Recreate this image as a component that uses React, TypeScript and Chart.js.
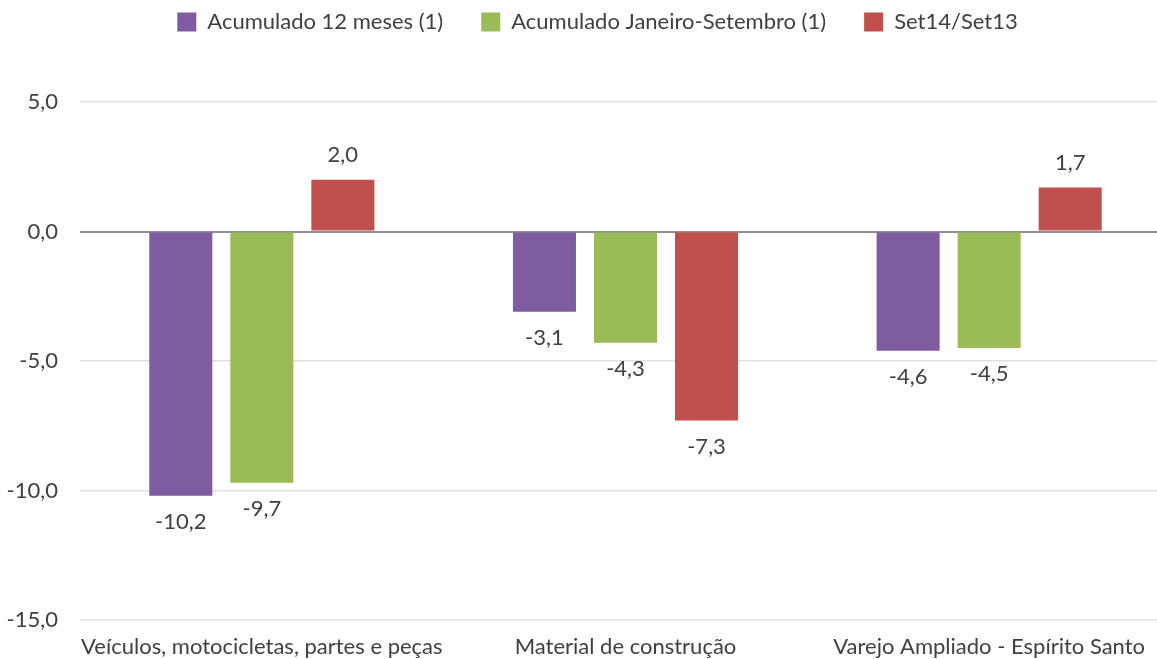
import React, { useEffect, useRef } from "react";
import { Chart, registerables } from "chart.js";

Chart.register(...registerables);

const categories = [
  "Veículos, motocicletas, partes e peças",
  "Material de construção",
  "Varejo Ampliado - Espírito Santo",
];
const acumulado12 = [-10.2, -3.1, -4.6];
const acumuladoJanSet = [-9.7, -4.3, -4.5];
const set14Set13 = [2.0, -7.3, 1.7];
const seriesNames = ["Acumulado 12 meses (1)", "Acumulado Janeiro-Setembro (1)", "Set14/Set13"];
const seriesColors = ["#7F5BA0", "#9BBB59", "#C0504D"];

const FONT = "Lato, 'Open Sans', sans-serif";
const TEXT = "#404040";
const FS = 22;

const fmt = (v: number) => v.toFixed(1).replace(".", ",");

const labelPlugin = {
  id: "valueLabels",
  afterDatasetsDraw(chart: any) {
    const ctx = chart.ctx;
    ctx.save();
    ctx.font = `${FS}px ${FONT}`;
    ctx.fillStyle = TEXT;
    ctx.textAlign = "center";
    ctx.textBaseline = "middle";
    chart.data.datasets.forEach((ds: any, i: number) => {
      const meta = chart.getDatasetMeta(i);
      meta.data.forEach((el: any, j: number) => {
        const v = ds.data[j] as number;
        const y = v >= 0 ? el.y - 25 : el.y + 26;
        ctx.fillText(fmt(v), el.x, y);
      });
    });
    ctx.restore();
  },
};

const PAD_TOP = -27;
const LEGEND_SHIFT = 24;
const legendSizePlugin = {
  id: "legendSize",
  afterInit(chart: any) {
    const legend = chart.legend;
    if (!legend) return;
    const orig = legend.fit.bind(legend);
    legend.fit = function () {
      orig();
      this.height = 102 - PAD_TOP;
    };
  },
  afterLayout(chart: any) {
    const legend = chart.legend;
    if (legend) legend.left += LEGEND_SHIFT;
  },
};

export default function App() {
  const ref = useRef<HTMLCanvasElement | null>(null);
  useEffect(() => {
    if (!ref.current) return;
    const data = [acumulado12, acumuladoJanSet, set14Set13];
    const chart = new Chart(ref.current, {
      type: "bar",
      data: {
        labels: categories,
        datasets: data.map((d, i) => ({
          label: seriesNames[i],
          data: d,
          backgroundColor: seriesColors[i],
          borderWidth: 0,
          categoryPercentage: 0.6685,
          barPercentage: 0.778,
        })),
      },
      options: {
        animation: false,
        responsive: true,
        maintainAspectRatio: false,
        layout: { padding: { top: PAD_TOP, right: 0, bottom: 0, left: 0 } },
        plugins: {
          legend: {
            position: "top",
            labels: {
              boxWidth: 19,
              boxHeight: 19,
              padding: 38,
              color: TEXT,
              font: { family: FONT, size: FS },
            },
          },
          tooltip: { enabled: false },
        },
        scales: {
          x: {
            grid: { display: false },
            border: { display: false },
            afterFit: (s: any) => {
              s.height = 39;
            },
            ticks: {
              color: TEXT,
              font: { family: FONT, size: FS },
              padding: 6,
              maxRotation: 0,
              autoSkip: false,
            },
          },
          y: {
            min: -15,
            max: 5,
            border: { display: false },
            afterFit: (s: any) => {
              s.width = 80;
            },
            grid: {
              color: (c: any) => (c.tick && c.tick.value === 0 ? "#8E8E93" : "#E0E0E0"),
              lineWidth: (c: any) => (c.tick && c.tick.value === 0 ? 2 : 1.5),
              drawTicks: false,
            },
            ticks: {
              stepSize: 5,
              color: TEXT,
              font: { family: FONT, size: FS },
              padding: 22,
              callback: (v: any) => fmt(Number(v)),
            },
          },
        },
      },
      plugins: [labelPlugin, legendSizePlugin],
    });
    return () => chart.destroy();
  }, []);
  return (
    <div style={{ position: "absolute", left: 0, top: 0, width: 1157, height: 659, overflow: "hidden", background: "#fff" }}>
      <div style={{ position: "absolute", left: 0, top: 0, width: 1171, height: 659 }}>
        <canvas ref={ref} />
      </div>
    </div>
  );
}
